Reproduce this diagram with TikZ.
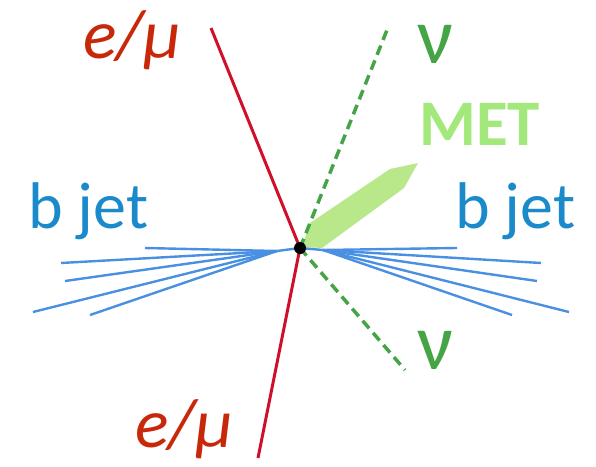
\documentclass[tikz,border=0pt]{standalone}
\usepackage{fontspec}
\setmainfont{Carlito}
\usepackage{tikz}
\definecolor{leptonred}{HTML}{D0102A}
\definecolor{labelred}{HTML}{C8280A}
\definecolor{nugreen}{HTML}{45A445}
\definecolor{metgreen}{HTML}{B9E88A}
\definecolor{metlabel}{HTML}{A3E87B}
\definecolor{jetblue}{HTML}{4A90E2}
\definecolor{jetlabel}{HTML}{1B8ACB}

\begin{document}
\begin{tikzpicture}[
    x=1pt,
    y=-1pt,
    lepton/.style={line width=3pt, leptonred},
    neutrino/.style={line width=3.5pt, nugreen, dash pattern=on 10pt off 6pt},
    track/.style={line width=2.4pt, jetblue},
    lbl/.style={inner sep=0pt, anchor=base west, font=\fontsize{66}{70}\selectfont},
    leplbl/.style={lbl, text=labelred, font=\fontsize{70}{74}\selectfont\itshape},
    nulbl/.style={lbl, text=nugreen, font=\fontsize{80}{84}\selectfont}
]
    \useasboundingbox (0,0) rectangle (596,466);

    % Vertex
    \coordinate (vtx) at (300,248);

    % MET
    \fill[metgreen] (302,247) -- (310,223) -- (390,169) -- (418,163)
        -- (404,188) -- (322,248) -- cycle;
    \node[lbl, text=metlabel, font=\fontsize{65}{70}\selectfont\bfseries] (met) at (419,145) {MET};

    % Leptons
    \coordinate (lup) at (211,28);
    \coordinate (ldown) at (258,458);
    \draw[lepton] (lup) -- (vtx) -- (ldown);
    \node[leplbl] (lepup) at (83,58) {e/μ};
    \node[leplbl] (lepdown) at (135,447) {e/μ};

    % Neutrinos
    \coordinate (nuup) at (387,30);
    \coordinate (nudown) at (405,370);
    \draw[neutrino] (vtx) -- (nuup);
    \draw[neutrino] (vtx) -- (nudown);
    \node[nulbl] (nu1) at (417,63) {ν};
    \node[nulbl] (nu2) at (417,369) {ν};

    % Jet esquerre
    \coordinate (jl) at (277,251);
    \draw[track] (vtx) -- (jl);
    \foreach \p [count=\i] in {(145,248),(61,263),(65,281),(33,312),(90,315)}
        \draw[track] (jl) -- \p coordinate (jl\i);
    \node[lbl, text=jetlabel] (bjl) at (28,228) {b jet};

    % Jet dret
    \coordinate (jr) at (323,250);
    \draw[track] (vtx) -- (jr);
    \foreach \p [count=\i] in {(457,248),(541,263),(537,281),(569,312),(512,315)}
        \draw[track] (jr) -- \p coordinate (jr\i);
    \node[lbl, text=jetlabel] (bjr) at (455,228) {b jet};

    % Vertex dot
    \fill (vtx) circle (6);

\end{tikzpicture}
\end{document}
